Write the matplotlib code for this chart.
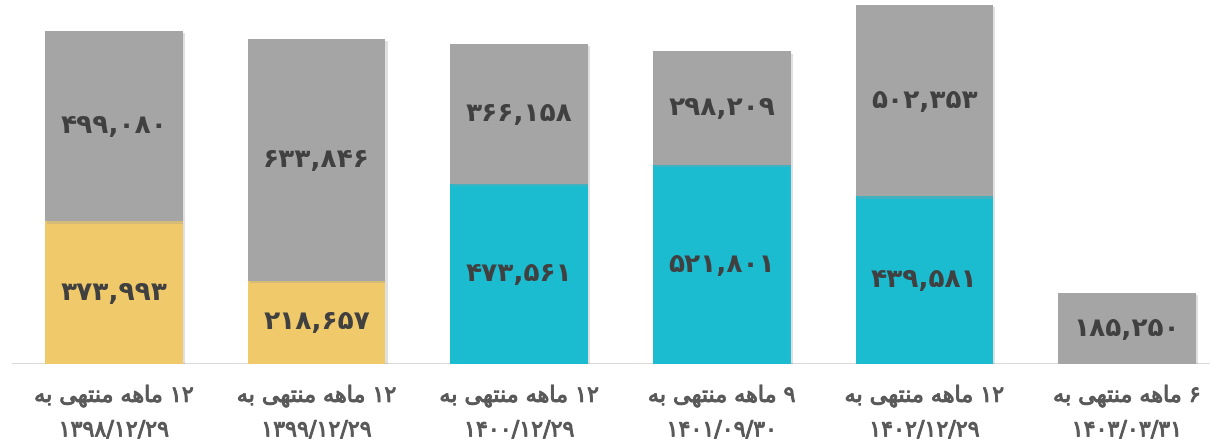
import matplotlib
matplotlib.use("Agg")
import matplotlib.pyplot as plt
import matplotlib.patheffects as pe

# ---- data ----
months = ["۱۲", "۱۲", "۱۲", "۹", "۱۲", "۶"]
dates = ["۱۳۹۸/۱۲/۲۹", "۱۳۹۹/۱۲/۲۹", "۱۴۰۰/۱۲/۲۹", "۱۴۰۱/۰۹/۳۰", "۱۴۰۲/۱۲/۲۹", "۱۴۰۳/۰۳/۳۱"]
bottom_vals = [373993, 218657, 473561, 521801, 439581, 0]
top_vals = [499080, 633846, 366158, 298209, 502353, 185250]
bottom_colors = ["#F0C96A", "#F0C96A", "#1BBBD0", "#1BBBD0", "#1BBBD0", "#A5A5A5"]
top_color = "#A5A5A5"

# visual (pre-shaped, right-to-left reversed) form of "ماهه منتهی به"
phrase_visual = "\uFEEA\uFE91 \uFEF0\uFEEC\uFE98\uFEE8\uFEE3 \uFEEA\uFEEB\uFE8E\uFEE3"

fa_digits = str.maketrans("0123456789", "۰۱۲۳۴۵۶۷۸۹")
def fa(n):
    return f"{n:,}".translate(fa_digits)

W, H = 1210, 448
fig = plt.figure(figsize=(W / 100, H / 100), dpi=100)
base_px = 364
top_px = 5
ax = fig.add_axes([0, 1 - base_px / H, 1, (base_px - top_px) / H])
ax.set_facecolor("white")

x0, step = 114, 202.6
ax.set_xlim(-x0 / step, (W - x0) / step)
totals = [b + t for b, t in zip(bottom_vals, top_vals)]
ax.set_ylim(0, max(totals))

xs = list(range(len(top_vals)))
shadow = [pe.SimplePatchShadow(offset=(1.5, -1.5), shadow_rgbFace="#999999", alpha=0.3), pe.Normal()]
bw = 0.68
b1 = ax.bar(xs, bottom_vals, width=bw, color=bottom_colors, zorder=2)
b2 = ax.bar(xs, top_vals, width=bw, bottom=bottom_vals, color=top_color, zorder=2)
for r in list(b1) + list(b2):
    r.set_path_effects(shadow)

lab_color = "#404040"
font = ["DejaVu Sans"]
for i in xs:
    if bottom_vals[i] > 0:
        ax.text(i, bottom_vals[i] / 2, fa(bottom_vals[i]), ha="center", va="center",
                fontsize=19, fontweight="bold", color=lab_color, family=font, zorder=3)
    ax.text(i, bottom_vals[i] + top_vals[i] / 2, fa(top_vals[i]), ha="center", va="center",
            fontsize=19, fontweight="bold", color=lab_color, family=font, zorder=3)

for s in ax.spines.values():
    s.set_visible(False)
ax.set_yticks([])
ax.set_xticks([])
ax.axhline(0, xmin=13 / W, xmax=1, color="#d9d9d9", lw=1.5, zorder=1)

cat_color = "#595959"
thick = [pe.withStroke(linewidth=0.7, foreground=cat_color)]
for i in xs:
    line1 = phrase_visual + " " + months[i]
    ax.text(i, -0.058 * max(totals), line1 + "\n" + dates[i], ha="center", va="top",
            fontsize=16, color=cat_color, family=font, linespacing=1.85,
            path_effects=thick)

fig.savefig("out.png", dpi=100)
